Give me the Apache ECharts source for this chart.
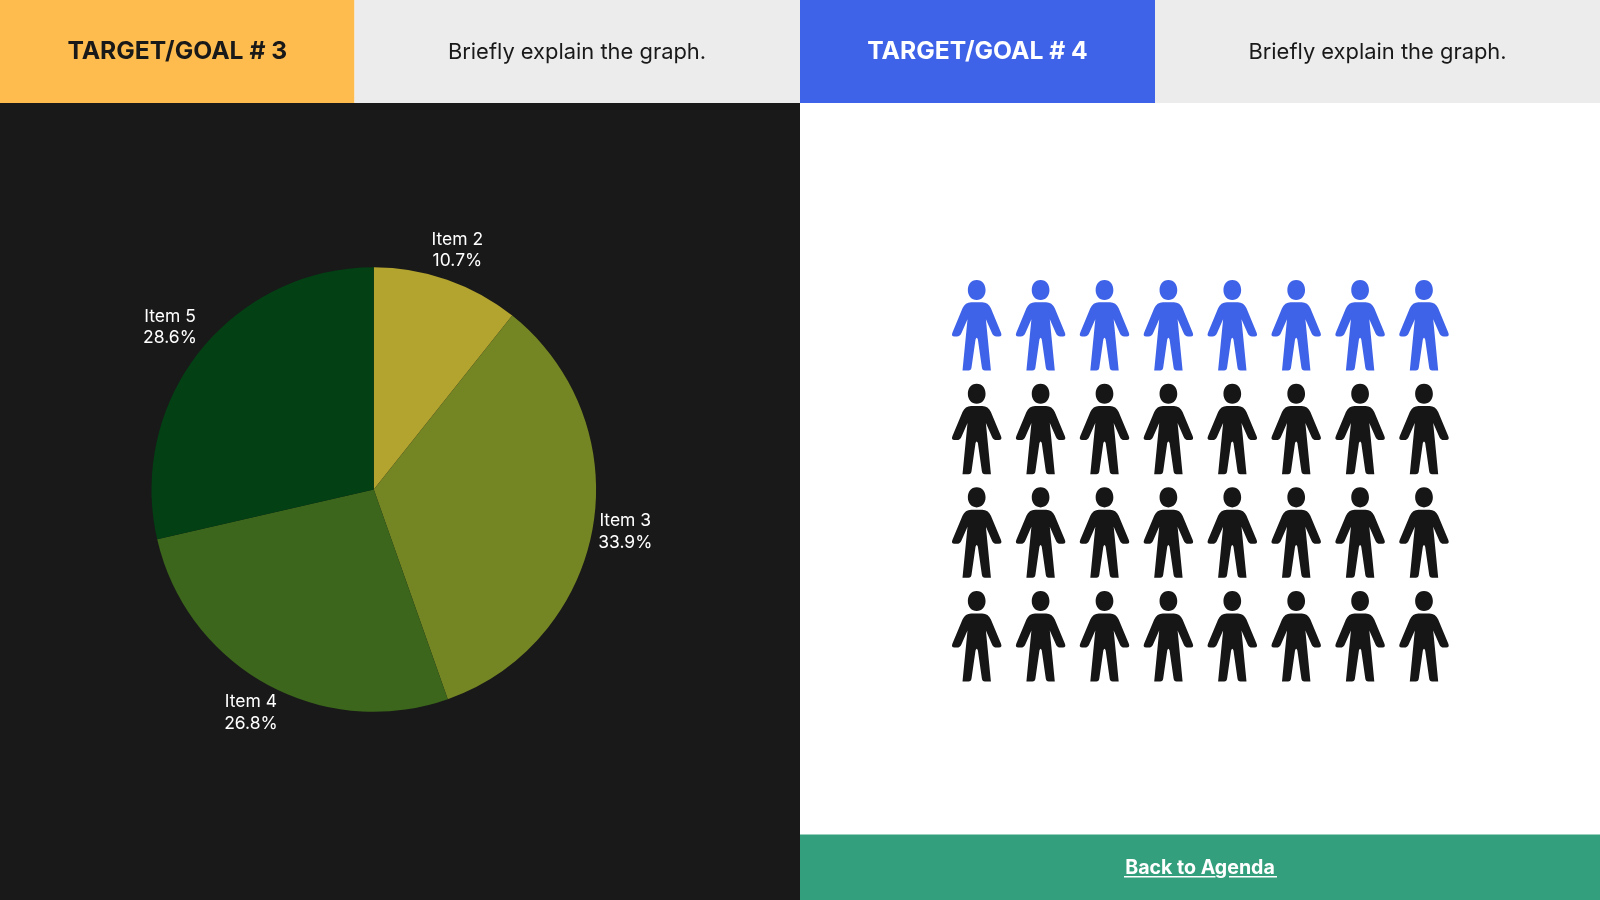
<!DOCTYPE html>
<html><head><meta charset="utf-8">
<style>html,body{margin:0;padding:0;background:#fff}#c{width:1600px;height:900px}</style>
<script src="https://cdn.jsdelivr.net/npm/echarts@6/dist/echarts.min.js"></script>
</head><body><div id="c"></div>
<script>
const pieNames = ['Item 2', 'Item 3', 'Item 4', 'Item 5'];
const pieValues = [10.7, 33.9, 26.8, 28.6];
const pieColors = ['#B3A32F', '#748524', '#3B661B', '#034014'];
const iconColumns = ['1', '2', '3', '4', '5', '6', '7', '8'];
const iconRows = ['1', '2', '3', '4'];
const highlightedIcons = 8;
const titleLeft = 'TARGET/GOAL # 3';
const titleRight = 'TARGET/GOAL # 4';
const explainText = 'Briefly explain the graph.';
const linkText = 'Back to Agenda';

const FONT = 'Inter, Roboto, sans-serif';
const PERSON = 'path://M153,127 L186,127 Q204,127 212,145 L242,217 Q247,229 236,229 L229,229 Q219,229 215,219 L197,178 L212,331 L194,331 Q186,331 185,322 L173,238 Q169.5,228 166,238 L154,322 Q153,331 145,331 L127,331 L142,178 L124,219 Q120,229 110,229 L103,229 Q92,229 97,217 L127,145 Q135,127 153,127 Z M169.5,60 C187,60 196,74 196,90 C196,108 185,120 169.5,120 C154,120 143,108 143,90 C143,74 152,60 169.5,60 Z';

const cx = 373.8, cy = 489.5, pieR = 222.3;
const labelRadii = [253.5, 255, 255, 260.5];
const total = pieValues.reduce((a, b) => a + b, 0);
const midAngles = [];
pieValues.reduce((acc, v, i) => { midAngles[i] = (acc + v / 2) / total * 2 * Math.PI; return acc + v; }, 0);

const rect = (x, y, w, h, fill) => ({ type: 'rect', z: -10, silent: true, shape: { x, y, width: w, height: h }, style: { fill } });
const text = (t, x, y, size, weight, fill) => ({ type: 'text', z: 10, silent: true, style: { text: t, x, y, fill, align: 'center', verticalAlign: 'middle', fontFamily: FONT, fontSize: size, fontWeight: weight } });

const iconData = [];
iconRows.forEach((r, ri) => iconColumns.forEach((c, ci) => {
  const highlighted = ri * iconColumns.length + ci < highlightedIcons;
  iconData.push({ value: [c, r], itemStyle: { color: highlighted ? '#3F63E8' : '#161616', opacity: 1 } });
}));

const chart = echarts.init(document.getElementById('c'), null, { renderer: 'canvas', width: 1600, height: 900 });
chart.setOption({
  animation: false,
  backgroundColor: '#ffffff',
  graphic: [
    rect(0, 103, 800, 797, '#191919'),
    rect(0, 0, 354.5, 103, '#FFBC4E'),
    rect(354.5, 0, 445.5, 103, '#ECECEC'),
    rect(800, 0, 355, 103, '#3F63E8'),
    rect(1155, 0, 445, 103, '#ECECEC'),
    rect(800, 834.5, 800, 65.5, '#349F7C'),
    text(titleLeft, 177.3, 52, 24.7, 700, '#191919'),
    text(titleRight, 977.5, 52, 24.7, 700, '#ffffff'),
    text(explainText, 577, 52.5, 21.9, 400, '#191919'),
    text(explainText, 1377.5, 52.5, 21.9, 400, '#191919'),
    text(linkText, 1200, 868, 19.6, 700, '#ffffff'),
    { type: 'rect', z: 10, silent: true, shape: { x: 1124, y: 876, width: 91.5, height: 1.6 }, style: { fill: '#fff' } },
    { type: 'rect', z: 10, silent: true, shape: { x: 1229, y: 876, width: 48, height: 1.6 }, style: { fill: '#fff' } }
  ],
  grid: { left: 944.75, top: 273.35, width: 511.2, height: 414.8 },
  xAxis: { type: 'category', data: iconColumns, show: false },
  yAxis: { type: 'category', data: iconRows, inverse: true, show: false },
  series: [
    {
      type: 'pie',
      center: [cx, cy],
      radius: [0, pieR],
      startAngle: 90,
      clockwise: true,
      data: pieNames.map((name, i) => ({ name, value: pieValues[i], itemStyle: { color: pieColors[i] } })),
      label: {
        show: true, position: 'outside', color: '#ffffff', fontFamily: FONT, fontSize: 17.5, lineHeight: 21.5,
        formatter: p => p.name + '\n' + p.value + '%'
      },
      labelLine: { show: false },
      labelLayout: p => ({
        x: cx + labelRadii[p.dataIndex] * Math.sin(midAngles[p.dataIndex]),
        y: cy - labelRadii[p.dataIndex] * Math.cos(midAngles[p.dataIndex]),
        align: 'center', verticalAlign: 'middle'
      }),
      emphasis: { disabled: true }
    },
    {
      type: 'scatter',
      symbol: PERSON,
      symbolSize: [49.5, 90.5],
      data: iconData,
      emphasis: { disabled: true }
    }
  ]
});
</script></body></html>
